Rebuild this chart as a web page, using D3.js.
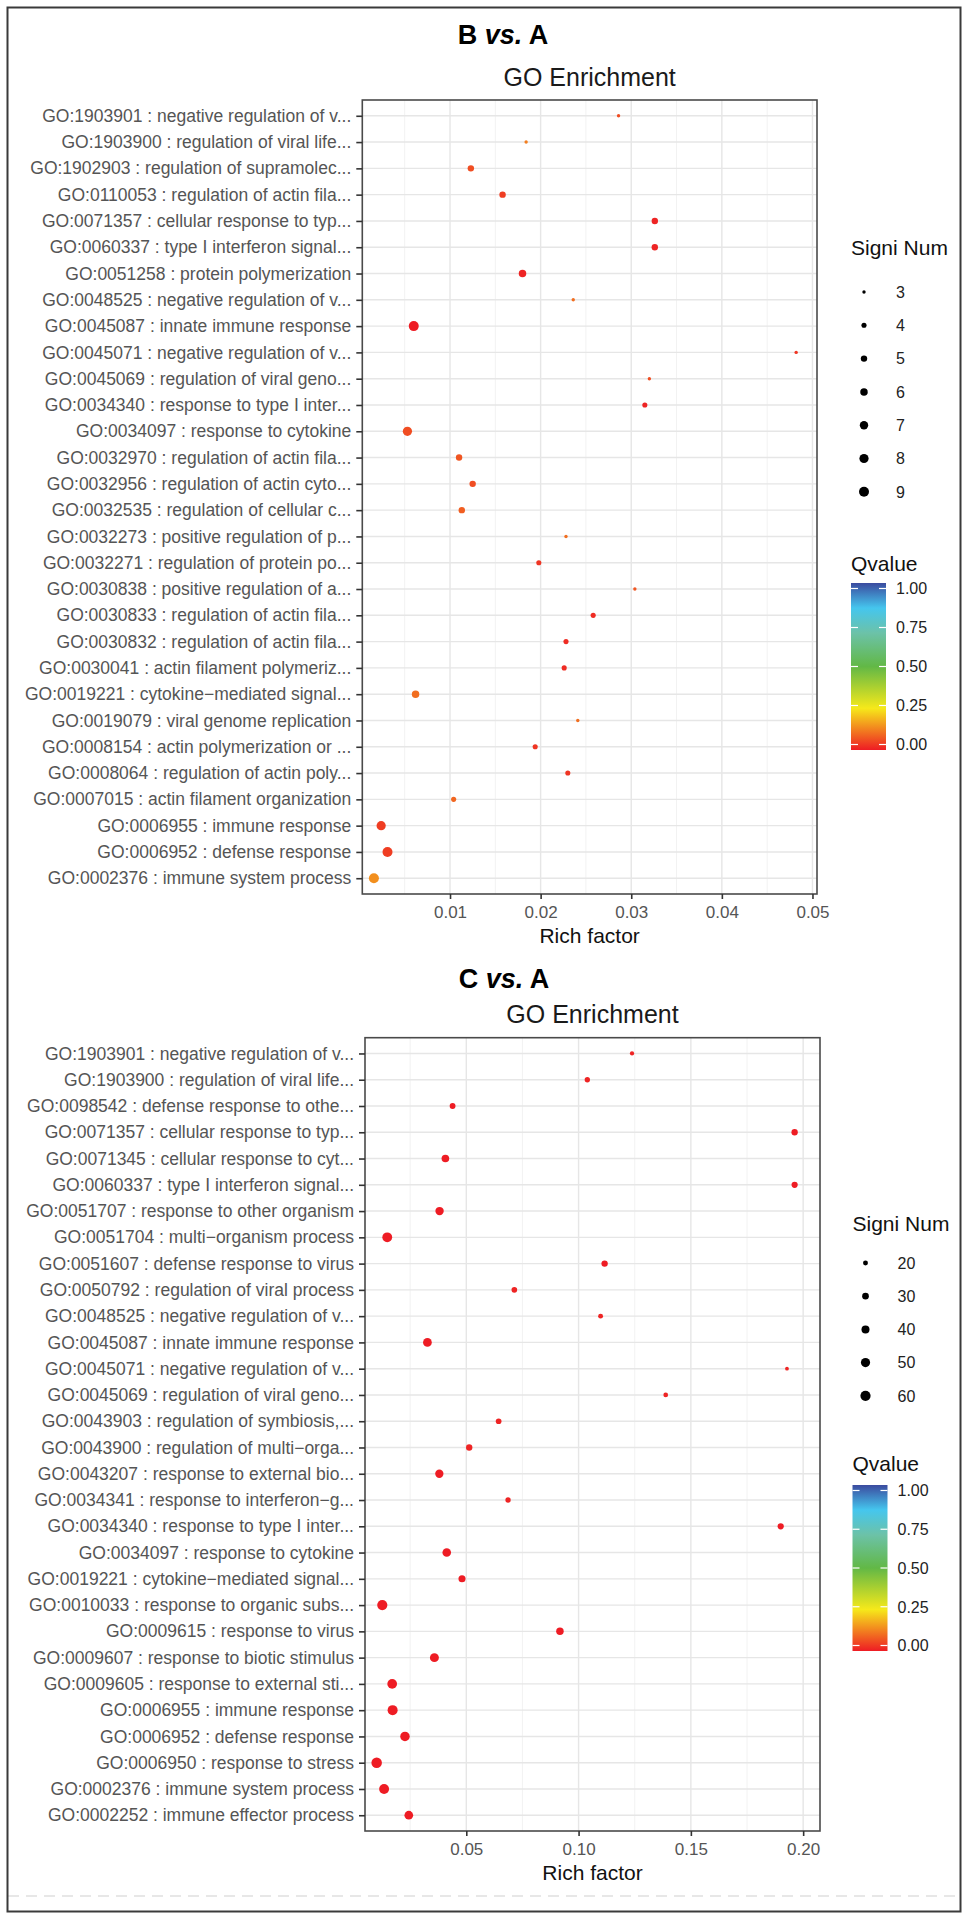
<!DOCTYPE html>
<html><head><meta charset="utf-8">
<script src="https://cdn.jsdelivr.net/npm/d3@7"></script>
<style>
html,body{margin:0;padding:0;background:#fff;}
svg{display:block;font-family:"Liberation Sans",Arial,Helvetica,sans-serif;}
</style></head>
<body>
<script>
// ---------------- DATA ----------------
const termsB = [
"GO:1903901 : negative regulation of v...",
"GO:1903900 : regulation of viral life...",
"GO:1902903 : regulation of supramolec...",
"GO:0110053 : regulation of actin fila...",
"GO:0071357 : cellular response to typ...",
"GO:0060337 : type I interferon signal...",
"GO:0051258 : protein polymerization",
"GO:0048525 : negative regulation of v...",
"GO:0045087 : innate immune response",
"GO:0045071 : negative regulation of v...",
"GO:0045069 : regulation of viral geno...",
"GO:0034340 : response to type I inter...",
"GO:0034097 : response to cytokine",
"GO:0032970 : regulation of actin fila...",
"GO:0032956 : regulation of actin cyto...",
"GO:0032535 : regulation of cellular c...",
"GO:0032273 : positive regulation of p...",
"GO:0032271 : regulation of protein po...",
"GO:0030838 : positive regulation of a...",
"GO:0030833 : regulation of actin fila...",
"GO:0030832 : regulation of actin fila...",
"GO:0030041 : actin filament polymeriz...",
"GO:0019221 : cytokine\u2212mediated signal...",
"GO:0019079 : viral genome replication",
"GO:0008154 : actin polymerization or ...",
"GO:0008064 : regulation of actin poly...",
"GO:0007015 : actin filament organization",
"GO:0006955 : immune response",
"GO:0006952 : defense response",
"GO:0002376 : immune system process"
];
const richB = [0.0286,0.0184,0.0123,0.0158,0.0326,0.0326,0.0180,0.0236,0.0060,0.0482,
               0.0320,0.0315,0.0053,0.0110,0.0125,0.0113,0.0228,0.0198,0.0304,0.0258,
               0.0228,0.0226,0.0062,0.0241,0.0194,0.0230,0.0104,0.0024,0.0031,0.0016];
const countB = [3,3,5,5,5,5,6,3,9,3, 3,4,8,5,5,5,3,4,3,4, 4,4,6,3,4,4,4,8,9,9];
const qB = [0.06,0.12,0.06,0.04,0.01,0.01,0.01,0.10,0.00,0.03,
            0.06,0.01,0.06,0.07,0.06,0.08,0.10,0.03,0.07,0.02,
            0.02,0.02,0.10,0.10,0.03,0.03,0.09,0.04,0.04,0.14];

const termsC = [
"GO:1903901 : negative regulation of v...",
"GO:1903900 : regulation of viral life...",
"GO:0098542 : defense response to othe...",
"GO:0071357 : cellular response to typ...",
"GO:0071345 : cellular response to cyt...",
"GO:0060337 : type I interferon signal...",
"GO:0051707 : response to other organism",
"GO:0051704 : multi\u2212organism process",
"GO:0051607 : defense response to virus",
"GO:0050792 : regulation of viral process",
"GO:0048525 : negative regulation of v...",
"GO:0045087 : innate immune response",
"GO:0045071 : negative regulation of v...",
"GO:0045069 : regulation of viral geno...",
"GO:0043903 : regulation of symbiosis,...",
"GO:0043900 : regulation of multi\u2212orga...",
"GO:0043207 : response to external bio...",
"GO:0034341 : response to interferon\u2212g...",
"GO:0034340 : response to type I inter...",
"GO:0034097 : response to cytokine",
"GO:0019221 : cytokine\u2212mediated signal...",
"GO:0010033 : response to organic subs...",
"GO:0009615 : response to virus",
"GO:0009607 : response to biotic stimulus",
"GO:0009605 : response to external sti...",
"GO:0006955 : immune response",
"GO:0006952 : defense response",
"GO:0006950 : response to stress",
"GO:0002376 : immune system process",
"GO:0002252 : immune effector process"
];
const richC = [0.1238,0.1039,0.0439,0.1962,0.0407,0.1962,0.0381,0.0148,0.1116,0.0714,
               0.1098,0.0327,0.1928,0.1388,0.0644,0.0513,0.0380,0.0686,0.1900,0.0413,
               0.0481,0.0126,0.0917,0.0358,0.0170,0.0172,0.0227,0.0101,0.0134,0.0244];
const countC = [17,22,25,28,37,27,43,56,28,24, 20,46,15,19,24,28,42,22,27,45,
                33,60,36,48,55,58,53,63,57,46];
const qC = [0.01,0.01,0.00,0.00,0.00,0.00,0.00,0.00,0.00,0.01,
            0.01,0.00,0.01,0.01,0.01,0.01,0.00,0.01,0.00,0.00,
            0.00,0.00,0.00,0.00,0.00,0.00,0.00,0.00,0.00,0.00];

const xTicksB = [0.01,0.02,0.03,0.04,0.05];
const xMinorB = [0.005,0.015,0.025,0.035,0.045];
const xTicksC = [0.05,0.10,0.15,0.20];
const xMinorC = [0.025,0.075,0.125,0.175];
const sizeBreaksB = [3,4,5,6,7,8,9];
const sizeBreaksC = [20,30,40,50,60];
const qTicks = [1.00,0.75,0.50,0.25,0.00];
const qStops = [0,0.25,0.5,0.7,0.85,1];
const qStopColors = ["#ee1c24","#f6e91a","#62b846","#6cc2a8","#45c6ee","#3b4b9f"];

// ---------------- DRAW ----------------
const W = 968, H = 1914;
const svg = d3.select("body").append("svg").attr("width", W).attr("height", H);
svg.append("rect").attr("width", W).attr("height", H).attr("fill", "#fff");

const qColor = d3.scaleLinear().domain(qStops).range(qStopColors).clamp(true);

const defs = svg.append("defs");
const grad = defs.append("linearGradient").attr("id", "qgrad")
  .attr("x1", 0).attr("y1", 1).attr("x2", 0).attr("y2", 0);
qStops.forEach((s, i) => grad.append("stop").attr("offset", s).attr("stop-color", qStopColors[i]));

function drawPanel(cfg) {
  const g = svg.append("g");
  const x = d3.scaleLinear().domain(cfg.xDomain).range([cfg.left, cfg.right]);
  const y = d3.scalePoint().domain(cfg.terms).range([cfg.top, cfg.bottom]).padding(0.6);
  const areaScale = d3.scaleLinear().domain(cfg.sizeDomain).range([cfg.rRange[0] ** 2, cfg.rRange[1] ** 2]);
  const r = v => Math.sqrt(Math.max(0.01, areaScale(v)));

  // titles
  const t1 = g.append("text").attr("x", cfg.titleX).attr("y", cfg.titleY)
    .attr("text-anchor", "middle").attr("font-size", 27).attr("font-weight", "bold").attr("fill", "#000");
  t1.append("tspan").text(cfg.titleA + " ");
  t1.append("tspan").attr("font-style", "italic").text("vs.");
  t1.append("tspan").text(" A");
  g.append("text").attr("x", (cfg.left + cfg.right) / 2).attr("y", cfg.subY)
    .attr("text-anchor", "middle").attr("font-size", 25).attr("fill", "#1a1a1a").text("GO Enrichment");

  // grid
  g.append("g").selectAll("line").data(cfg.xMinor).join("line")
    .attr("x1", d => x(d)).attr("x2", d => x(d)).attr("y1", cfg.top).attr("y2", cfg.bottom)
    .attr("stroke", "#f2f2f2").attr("stroke-width", 1);
  g.append("g").selectAll("line").data(cfg.xTicks).join("line")
    .attr("x1", d => x(d)).attr("x2", d => x(d)).attr("y1", cfg.top).attr("y2", cfg.bottom)
    .attr("stroke", "#e6e6e6").attr("stroke-width", 1.4);
  g.append("g").selectAll("line").data(cfg.terms).join("line")
    .attr("x1", cfg.left).attr("x2", cfg.right).attr("y1", d => y(d)).attr("y2", d => y(d))
    .attr("stroke", "#e6e6e6").attr("stroke-width", 1.4);

  // points
  const rows = cfg.terms.map((t, i) => ({ t, rich: cfg.rich[i], n: cfg.count[i], q: cfg.q[i] }));
  g.append("g").selectAll("circle").data(rows).join("circle")
    .attr("cx", d => x(d.rich)).attr("cy", d => y(d.t)).attr("r", d => r(d.n))
    .attr("fill", d => qColor(d.q));

  // panel border
  g.append("rect").attr("x", cfg.left).attr("y", cfg.top)
    .attr("width", cfg.right - cfg.left).attr("height", cfg.bottom - cfg.top)
    .attr("fill", "none").attr("stroke", "#4a4a4a").attr("stroke-width", 1.6);

  // y axis
  const ya = g.append("g").attr("transform", `translate(${cfg.left},0)`)
    .call(d3.axisLeft(y).tickSize(6).tickPadding(5));
  ya.select(".domain").remove();
  ya.selectAll(".tick line").attr("stroke", "#333").attr("stroke-width", 1.6);
  ya.selectAll(".tick text").attr("font-size", 17.5).attr("fill", "#555")
    .attr("font-family", "Liberation Sans, Arial, sans-serif");

  // x axis
  const xa = g.append("g").attr("transform", `translate(0,${cfg.bottom})`)
    .call(d3.axisBottom(x).tickValues(cfg.xTicks).tickFormat(cfg.fmt).tickSize(5).tickPadding(7));
  xa.select(".domain").remove();
  xa.selectAll(".tick line").attr("stroke", "#333").attr("stroke-width", 1.6);
  xa.selectAll(".tick text").attr("font-size", 17).attr("fill", "#555")
    .attr("font-family", "Liberation Sans, Arial, sans-serif");
  g.append("text").attr("x", (cfg.left + cfg.right) / 2).attr("y", cfg.bottom + 49)
    .attr("text-anchor", "middle").attr("font-size", 21).attr("fill", "#111").text("Rich factor");

  // size legend
  const L = cfg.legend;
  g.append("text").attr("x", L.x).attr("y", L.sizeTitleY).attr("font-size", 21).attr("fill", "#111").text("Signi Num");
  const sl = g.append("g").selectAll("g").data(cfg.sizeBreaks).join("g")
    .attr("transform", (d, i) => `translate(0,${L.sizeFirstY + i * L.sizeStep})`);
  sl.append("circle").attr("cx", L.x + 13).attr("cy", 0).attr("r", d => r(d)).attr("fill", "#000");
  sl.append("text").attr("x", L.x + 45).attr("y", 0).attr("dy", "0.36em")
    .attr("font-size", 16).attr("fill", "#222").text(d => d);

  // qvalue legend
  g.append("text").attr("x", L.x).attr("y", L.qTitleY).attr("font-size", 21).attr("fill", "#111").text("Qvalue");
  g.append("rect").attr("x", L.x).attr("y", L.barTop).attr("width", 35).attr("height", L.barBottom - L.barTop)
    .attr("fill", "url(#qgrad)");
  const qy = d3.scaleLinear().domain([0, 1]).range([L.barBottom - 5.5, L.barTop + 5.5]);
  const ql = g.append("g").selectAll("g").data(qTicks).join("g")
    .attr("transform", d => `translate(0,${qy(d)})`);
  ql.append("line").attr("x1", L.x).attr("x2", L.x + 7).attr("stroke", "#fff").attr("stroke-width", 1.2);
  ql.append("line").attr("x1", L.x + 28).attr("x2", L.x + 35).attr("stroke", "#fff").attr("stroke-width", 1.2);
  ql.append("text").attr("x", L.x + 45).attr("y", 0).attr("dy", "0.36em")
    .attr("font-size", 16).attr("fill", "#222").text(d => d3.format(".2f")(d));
}

drawPanel({
  terms: termsB, rich: richB, count: countB, q: qB,
  xDomain: [0.00032, 0.0505], xTicks: xTicksB, xMinor: xMinorB, fmt: d3.format(".2f"),
  left: 362.3, right: 817, top: 100, bottom: 894,
  sizeDomain: [3, 9], rRange: [1.7, 5.0], sizeBreaks: sizeBreaksB,
  titleA: "B", titleX: 503, titleY: 44, subY: 86,
  legend: { x: 851, sizeTitleY: 255, sizeFirstY: 292, sizeStep: 33.3, qTitleY: 571, barTop: 583, barBottom: 750 }
});

drawPanel({
  terms: termsC, rich: richC, count: countC, q: qC,
  xDomain: [0.0049, 0.2075], xTicks: xTicksC, xMinor: xMinorC, fmt: d3.format(".2f"),
  left: 365, right: 820, top: 1037.7, bottom: 1831,
  sizeDomain: [13, 64], rRange: [1.6, 5.3], sizeBreaks: sizeBreaksC,
  titleA: "C", titleX: 504, titleY: 988, subY: 1023,
  legend: { x: 852.5, sizeTitleY: 1231, sizeFirstY: 1263, sizeStep: 33.2, qTitleY: 1471, barTop: 1485, barBottom: 1651 }
});

// dashed separator and outer frame
svg.append("line").attr("x1", 8).attr("x2", 960).attr("y1", 1896).attr("y2", 1896)
  .attr("stroke", "#cfcfcf").attr("stroke-width", 1).attr("stroke-dasharray", "11,7");
svg.append("rect").attr("x", 7.5).attr("y", 7.5).attr("width", 953).attr("height", 1904)
  .attr("fill", "none").attr("stroke", "#3a3a3a").attr("stroke-width", 2);
</script>
</body></html>
